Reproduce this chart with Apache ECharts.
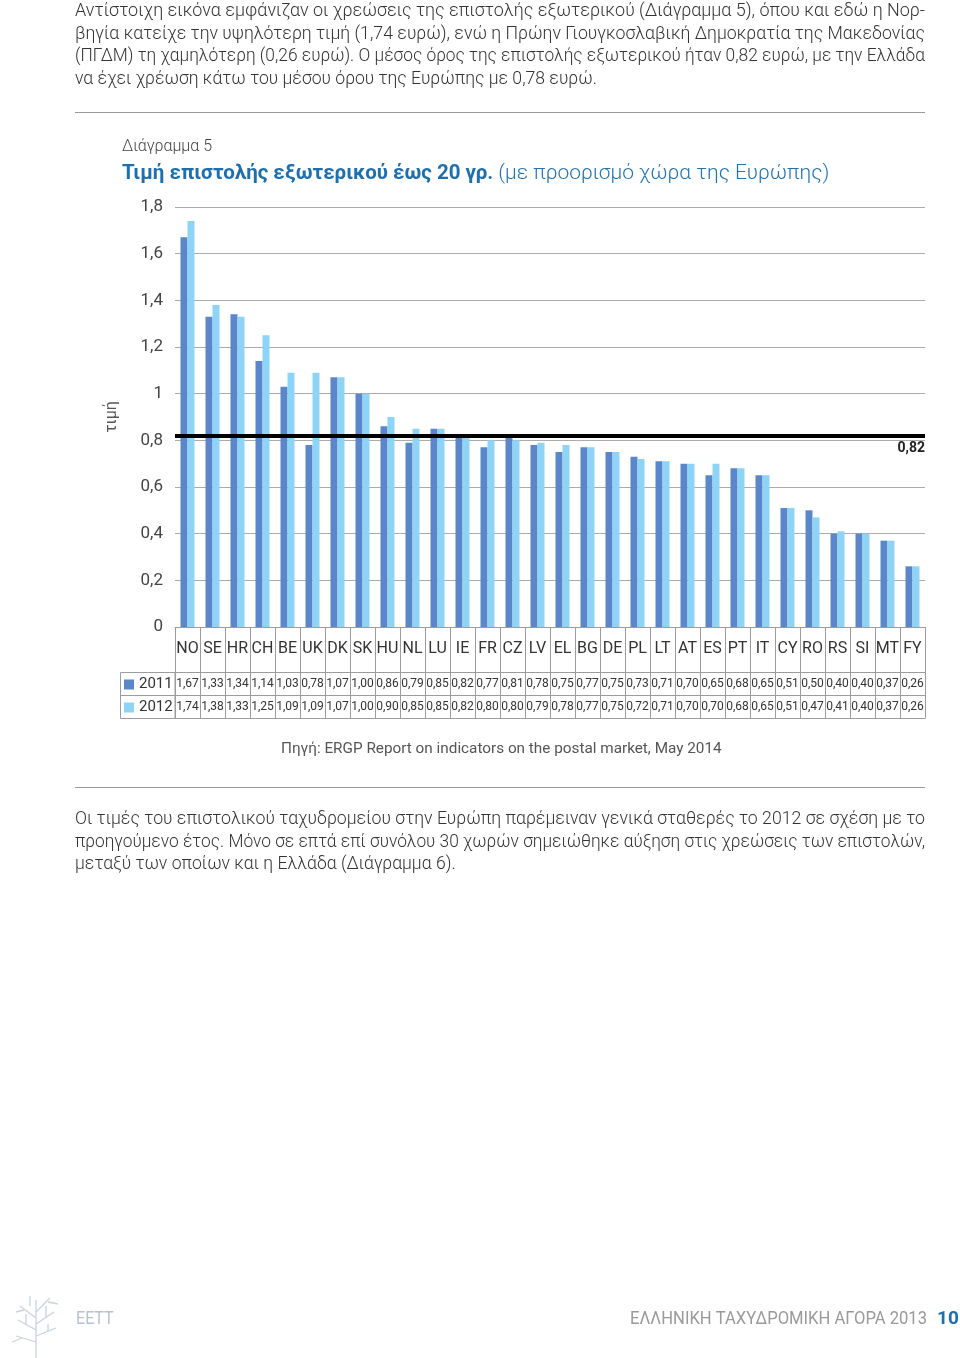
<!DOCTYPE html>
<html><head><meta charset="utf-8">
<script src="https://cdn.jsdelivr.net/npm/echarts@6/dist/echarts.min.js"></script>
<style>
html,body{margin:0;padding:0;width:960px;height:1358px;background:#fff;overflow:hidden;}
#chart{position:absolute;left:0;top:0;width:960px;height:1358px;}
.p{position:absolute;left:75px;width:850px;font-family:Roboto,sans-serif;font-weight:300;font-size:19px;color:#333;}
.p div{height:22.6px;line-height:22.6px;white-space:nowrap;}
.p span{display:inline-block;transform-origin:0 50%;}
.foot{position:absolute;font-family:Roboto,sans-serif;font-size:19px;white-space:nowrap;transform-origin:0 50%;}
.rule{position:absolute;left:75px;width:850px;height:1px;background:#9a9a9a;}
</style></head>
<body>
<div id="chart"></div>
<div class="p" style="top:-1px">
<div><span class="full">Αντίστοιχη εικόνα εμφάνιζαν οι χρεώσεις της επιστολής εξωτερικού (Διάγραμμα 5), όπου και εδώ η Νορ-</span></div>
<div><span class="full">βηγία κατείχε την υψηλότερη τιμή (1,74 ευρώ), ενώ η Πρώην Γιουγκοσλαβική Δημοκρατία της Μακεδονίας</span></div>
<div><span class="full">(ΠΓΔΜ) τη χαμηλότερη (0,26 ευρώ). Ο μέσος όρος της επιστολής εξωτερικού ήταν 0,82 ευρώ, με την Ελλάδα</span></div>
<div><span class="last">να έχει χρέωση κάτω του μέσου όρου της Ευρώπης με 0,78 ευρώ.</span></div>
</div>
<div class="rule" style="top:112px"></div>
<div class="rule" style="top:787px"></div>
<div class="p" style="top:807px">
<div><span class="full">Οι τιμές του επιστολικού ταχυδρομείου στην Ευρώπη παρέμειναν γενικά σταθερές το 2012 σε σχέση με το</span></div>
<div><span class="full">προηγούμενο έτος. Μόνο σε επτά επί συνόλου 30 χωρών σημειώθηκε αύξηση στις χρεώσεις των επιστολών,</span></div>
<div><span class="last">μεταξύ των οποίων και η Ελλάδα (Διάγραμμα 6).</span></div>
</div>
<svg style="position:absolute;left:4px;top:1290px" width="64" height="68" viewBox="0 0 64 68">
<g stroke="#c9d3df" stroke-width="1.3" fill="none">
<path d="M32 68 V10"/><path d="M32 40 L14 30 M32 34 L50 22 M32 28 L16 16 M32 22 L46 8 M32 46 L52 38 M32 52 L12 46"/>
<path d="M22 35 V24 M42 28 V16 M20 20 L12 22 M44 12 L54 14 M44 42 V34 M18 48 L8 52 M26 16 V6"/>
</g></svg>
<div class="foot" id="eett" style="left:76px;top:1306px;color:#b8c2cf;">ΕΕΤΤ</div>
<div class="foot" id="fright" style="left:630px;top:1306px;color:#9a9a9a;">ΕΛΛΗΝΙΚΗ ΤΑΧΥΔΡΟΜΙΚΗ ΑΓΟΡΑ 2013</div>
<div class="foot" style="left:937px;top:1306px;color:#1d6fae;font-weight:bold;">10</div>
<script>
const countries = ['NO','SE','HR','CH','BE','UK','DK','SK','HU','NL','LU','IE','FR','CZ','LV','EL','BG','DE','PL','LT','AT','ES','PT','IT','CY','RO','RS','SI','MT','FY'];
const values2011 = [1.67,1.33,1.34,1.14,1.03,0.78,1.07,1.00,0.86,0.79,0.85,0.82,0.77,0.81,0.78,0.75,0.77,0.75,0.73,0.71,0.70,0.65,0.68,0.65,0.51,0.50,0.40,0.40,0.37,0.26];
const values2012 = [1.74,1.38,1.33,1.25,1.09,1.09,1.07,1.00,0.90,0.85,0.85,0.82,0.80,0.80,0.79,0.78,0.77,0.75,0.72,0.71,0.70,0.70,0.68,0.65,0.51,0.47,0.41,0.40,0.37,0.26];
const seriesNames = ['2011','2012'];
const average = 0.82;

// condense HTML text lines to fit the justified column
(function(){
  const fulls = document.querySelectorAll('.p span.full');
  let sum = 0;
  fulls.forEach(s => { const k = 850 / s.getBoundingClientRect().width; sum += k; s.style.transform = 'scaleX(' + k + ')'; });
  const avg = sum / fulls.length;
  document.querySelectorAll('.p span.last').forEach(s => { s.style.transform = 'scaleX(' + avg + ')'; });
  const fr = document.getElementById('fright');
  fr.style.transform = 'scaleX(' + (297 / fr.getBoundingClientRect().width) + ')';
  document.getElementById('eett').style.transform = 'scaleX(0.85)';
})();

const fmt = v => (Math.round(v*100)/100).toString().replace('.', ',');
const fmt2 = v => v.toFixed(2).replace('.', ',');
const lineCol = '#9c9c9c';

function tableAxis(offset, vals, tickLen, showLabel) {
  return {
    type: 'category', gridIndex: 0, position: 'bottom', offset: offset,
    data: countries,
    axisLine: {show: true, lineStyle: {color: lineCol, width: 1}},
    axisTick: {show: tickLen > 0, length: tickLen, interval: 0, lineStyle: {color: lineCol}},
    axisLabel: {
      show: showLabel, interval: 0, margin: 11.5, verticalAlign: 'middle',
      fontFamily: 'Roboto', fontSize: 12, color: '#333',
      formatter: (v, i) => vals ? fmt2(vals[i]) : ''
    },
    splitLine: {show: false}
  };
}

const chart = echarts.init(document.getElementById('chart'));
chart.setOption({
  animation: false,
  title: [
    {text: 'Διάγραμμα 5', left: 122, top: 139, padding: 0, textStyle: {fontFamily: 'Roboto', fontSize: 16, fontWeight: 300, color: '#444'}},
    {text: '{b|Τιμή επιστολής εξωτερικού έως 20 γρ.} {n|(με προορισμό χώρα της Ευρώπης)}', left: 122, top: 163, padding: 0,
     textStyle: {rich: {
       b: {fontFamily: 'Roboto', fontSize: 20.5, fontWeight: 'bold', color: '#1d6fae'},
       n: {fontFamily: 'Roboto', fontSize: 21, fontWeight: 300, color: '#1f74b5'}
     }}},
    {text: 'Πηγή: ERGP Report on indicators on the postal market, May 2014', left: 281, top: 742, padding: 0,
     textStyle: {fontFamily: 'Roboto', fontSize: 15.3, fontWeight: 'normal', color: '#555'}}
  ],
  legend: {
    data: seriesNames, orient: 'vertical', left: 124, top: 677, itemGap: 8, padding: 0,
    itemWidth: 10, itemHeight: 10, icon: 'rect',
    textStyle: {fontFamily: 'Roboto', fontSize: 15, color: '#333', lineHeight: 15}
  },
  grid: {left: 175, right: 35, top: 207, height: 420, containLabel: false},
  xAxis: [
    {
      type: 'category', data: countries, gridIndex: 0, position: 'bottom', offset: 0,
      axisLine: {show: true, lineStyle: {color: lineCol}},
      axisTick: {show: true, length: 45, interval: 0, lineStyle: {color: lineCol}},
      axisLabel: {interval: 0, margin: 22, verticalAlign: 'middle', fontFamily: 'Roboto', fontSize: 16, color: '#333'},
      splitLine: {show: false}
    },
    tableAxis(45, values2011, 23, true),
    tableAxis(68, values2012, 23, true),
    tableAxis(91, null, 0, false)
  ],
  yAxis: {
    type: 'value', min: 0, max: 1.8, interval: 0.2,
    name: 'τιμή', nameLocation: 'middle', nameGap: 55, nameRotate: 90,
    nameTextStyle: {fontFamily: 'Roboto', fontSize: 16, color: '#555'},
    axisLine: {show: false}, axisTick: {show: false},
    axisLabel: {margin: 12, fontFamily: 'Roboto', fontSize: 17, color: '#444', formatter: v => fmt(v)},
    splitLine: {lineStyle: {color: '#ababab', width: 1}}
  },
  series: [
    {
      name: seriesNames[0], type: 'bar', data: values2011, barWidth: 7, barGap: '0%',
      itemStyle: {color: '#5b86c9'},
      markLine: {
        silent: true, symbol: 'none',
        lineStyle: {color: '#000', width: 4, type: 'solid'},
        label: {show: true, position: 'insideEndBottom', formatter: () => fmt2(average), fontFamily: 'Roboto', fontSize: 14, fontWeight: 'bold', color: '#222', distance: [0, 6]},
        data: [{yAxis: average}]
      }
    },
    {
      name: seriesNames[1], type: 'bar', data: values2012, barWidth: 7,
      itemStyle: {color: '#8ed4f7'}
    }
  ],
  graphic: [
    {type: 'rect', shape: {x: 120.5, y: 672.5, width: 54.5, height: 46}, style: {fill: 'none', stroke: lineCol, lineWidth: 1}},
    {type: 'line', shape: {x1: 120.5, y1: 695.5, x2: 175, y2: 695.5}, style: {stroke: lineCol, lineWidth: 1}}
  ]
});
</script>
</body></html>
